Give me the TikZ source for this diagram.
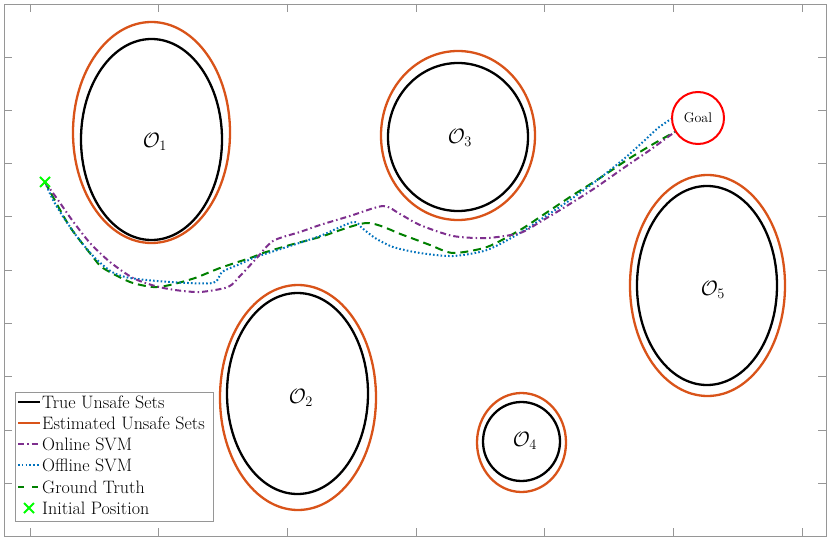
\documentclass[tikz,border=0pt]{standalone}
\usetikzlibrary{shapes.geometric,calc}
\definecolor{estorange}{RGB}{217,83,25}
\definecolor{onpurple}{RGB}{126,47,142}
\definecolor{offblue}{RGB}{0,114,189}
\definecolor{gtgreen}{RGB}{0,128,0}
\definecolor{initgreen}{RGB}{0,255,0}
\definecolor{axgray}{RGB}{150,150,150}
\begin{document}
\begin{tikzpicture}[x=1pt,y=-1pt,
  trueset/.style={draw=black, line width=2.3pt, ellipse, inner sep=0pt},
  estset/.style={draw=estorange, line width=2.3pt, ellipse, inner sep=0pt},
  olabel/.style={font=\fontsize{20}{24}\selectfont},
  onlinepath/.style={draw=onpurple, line width=2pt, dash pattern=on 6pt off 3pt on 1.5pt off 3pt},
  offlinepath/.style={draw=offblue, line width=2pt, dash pattern=on 1.6pt off 2.2pt},
  truthpath/.style={draw=gtgreen, line width=2pt, dash pattern=on 8pt off 5pt},
  tickline/.style={draw=axgray, line width=0.8pt},
  legtext/.style={anchor=west, inner sep=0pt, font=\fontsize{18}{21}\selectfont},
  crossmark/.style={draw=initgreen, line width=2pt}
]
\useasboundingbox (0,0) rectangle (830,540);
\fill[white] (0,0) rectangle (830,540);
% axes box and ticks
\draw[tickline] (4,4) rectangle (826,536);
\foreach \k in {0,...,6} {
  \draw[tickline] ({30+128.7*\k},536) -- ++(0,-8);
  \draw[tickline] ({30+128.7*\k},4) -- ++(0,8);
}
\foreach \k in {0,...,8} {
  \draw[tickline] (4,{57+53.3*\k}) -- ++(8,0);
  \draw[tickline] (826,{57+53.3*\k}) -- ++(-8,0);
}
% unsafe sets
\node[estset, minimum width=157pt, minimum height=221pt] (e1) at (151.5,132.5) {};
\node[trueset, minimum width=141pt, minimum height=201pt] (t1) at (151.5,139.5) {};
\node[olabel] (l1) at (155,142) {$\mathcal{O}_1$};
\node[estset, minimum width=156pt, minimum height=225pt] (e2) at (298,397.5) {};
\node[trueset, minimum width=141pt, minimum height=201pt] (t2) at (297.5,393.5) {};
\node[olabel] (l2) at (301,398) {$\mathcal{O}_2$};
\node[estset, minimum width=154pt, minimum height=169pt] (e3) at (458,135.5) {};
\node[trueset, minimum width=140pt, minimum height=148pt] (t3) at (458,137) {};
\node[olabel] (l3) at (460,138) {$\mathcal{O}_3$};
\node[estset, minimum width=89pt, minimum height=99pt] (e4) at (521.5,442.5) {};
\node[trueset, minimum width=77pt, minimum height=79pt] (t4) at (521.5,441.5) {};
\node[olabel] (l4) at (525,441) {$\mathcal{O}_4$};
\node[estset, minimum width=155pt, minimum height=221pt] (e5) at (707.5,285.5) {};
\node[trueset, minimum width=140pt, minimum height=199pt] (t5) at (707,285.5) {};
\node[olabel] (l5) at (713,290) {$\mathcal{O}_5$};
% goal and start
\node[circle, draw=red, line width=2pt, minimum size=52pt, inner sep=0pt,
      font=\fontsize{14}{16}\selectfont] (goal) at (698,118) {Goal};
\coordinate (start) at (45,182);
% trajectories
\draw[truthpath, line join=round] plot[smooth, tension=0.45] coordinates {
 (start) (53,197) (70,227) (93,257) (103,268) (130,282) (153,287) (170,285)
 (195,278) (220,268) (253,257) (263,253) (290,245) (320,237) (367,223)
 (403,235) (430,245) (453,253) (487,247) (520,230) (540,217) (570,197)
 (600,178) (630,158) (655,143) (goal.211)};
\draw[offlinepath, line join=round] plot[smooth, tension=0.45] coordinates {
 (start) (52,198) (62,215) (78,238) (95,258) (112,272) (130,278) (170,282)
 (213,283) (222,272) (240,264) (256,257) (290,246) (320,236) (353,222)
 (362,228) (375,238) (393,247) (420,253) (453,256) (487,250) (520,233)
 (540,220) (570,200) (600,178) (625,158) (645,140) (658,128) (goal.182)};
\draw[onlinepath, line join=round] plot[smooth, tension=0.45] coordinates {
 (start) (58,200) (72,220) (90,243) (110,262) (133,278) (155,286) (175,290)
 (200,292) (228,287) (240,276) (255,260) (273,241) (300,232) (320,225)
 (350,216) (383,206) (400,214) (420,225) (453,236) (487,238) (520,233)
 (540,222) (565,207) (595,188) (625,167) (650,150) (goal.211)};
% initial position marker
\draw[crossmark] ($(start)+(-5,-5)$) -- ($(start)+(5,5)$);
\draw[crossmark] ($(start)+(-5,5)$) -- ($(start)+(5,-5)$);
% legend
\draw[draw=axgray, line width=0.8pt, fill=white] (15,392) rectangle (213,521);
\draw[black, line width=2pt] (18,402) -- (40,402);
\node[legtext] (lg1) at (42,402) {True Unsafe Sets};
\draw[estorange, line width=2pt] (18,423) -- (40,423);
\node[legtext] (lg2) at (42,423) {Estimated Unsafe Sets};
\draw[onlinepath] (18,444) -- (40,444);
\node[legtext] (lg3) at (42,444) {Online SVM};
\draw[offlinepath] (18,465) -- (40,465);
\node[legtext] (lg4) at (42,465) {Offline SVM};
\draw[truthpath, dash pattern=on 6pt off 8pt] (18,487) -- (40,487);
\node[legtext] (lg5) at (42,487) {Ground Truth};
\coordinate (legx) at (29,508);
\draw[crossmark] ($(legx)+(-5,-5)$) -- ($(legx)+(5,5)$);
\draw[crossmark] ($(legx)+(-5,5)$) -- ($(legx)+(5,-5)$);
\node[legtext] (lg6) at (42,508) {Initial Position};
\end{tikzpicture}
\end{document}
